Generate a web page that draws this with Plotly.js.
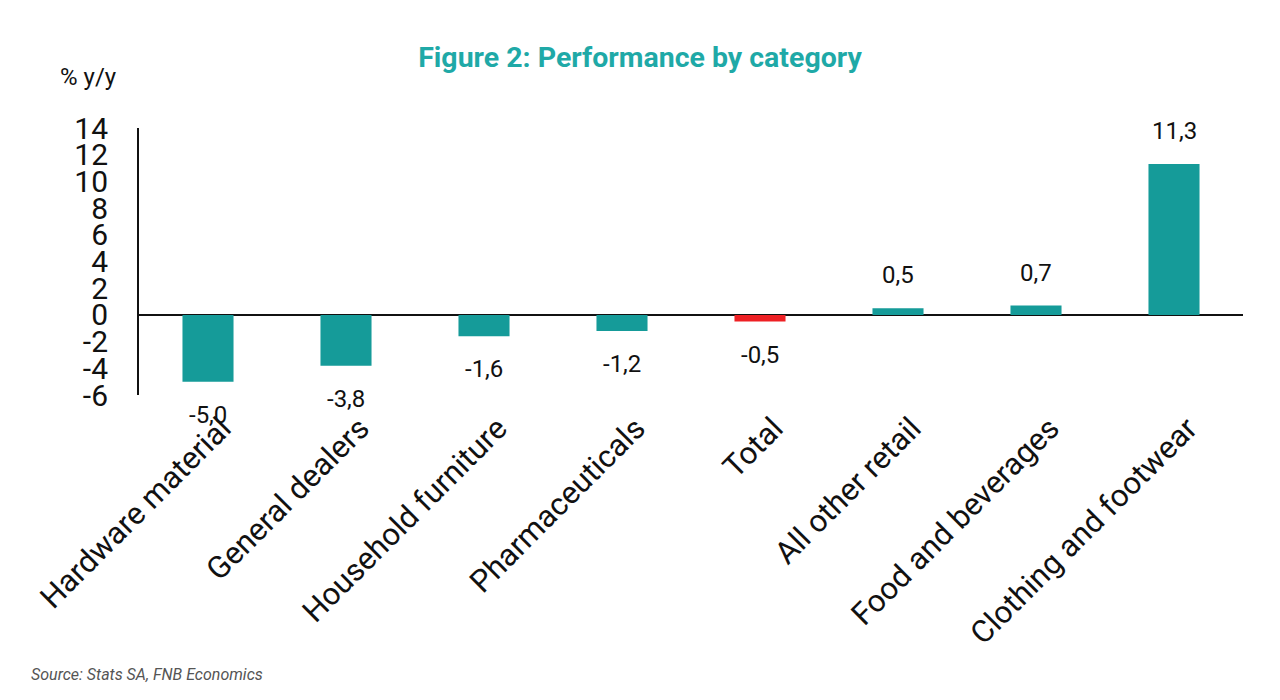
<!DOCTYPE html>
<html><head><meta charset="utf-8">
<script src="https://cdn.plot.ly/plotly-3.0.1.min.js"></script>
<style>body{margin:0;background:#fff}#chart{width:1280px;height:700px}</style>
</head><body><div id="chart"></div>
<script>
const categories = ["Hardware material","General dealers","Household furniture","Pharmaceuticals","Total","All other retail","Food and beverages","Clothing and footwear"];
const values = [-5.0,-3.8,-1.6,-1.2,-0.5,0.5,0.7,11.3];
const barColors = ["#159b99","#159b99","#159b99","#159b99","#ee2024","#159b99","#159b99","#159b99"];
const yTicks = [-6,-4,-2,0,2,4,6,8,10,12,14];

const labels = values.map(v => v.toFixed(1).replace('.', ','));

const trace = {
  type: 'bar', x: categories, y: values,
  marker: {color: barColors},
  hoverinfo: 'skip'
};
const valueNotes = categories.map((c, i) => ({
  x: c, y: values[i], xref: 'x', yref: 'y', text: labels[i], showarrow: false,
  yanchor: 'middle', yshift: values[i] >= 0 ? 33 : -33,
  font: {family: 'Roboto', size: 24, color: '#111'}
}));
const layout = {
  width: 1280, height: 700,
  margin: {l: 139, r: 37, t: 128, b: 305},
  paper_bgcolor: '#fff', plot_bgcolor: '#fff',
  bargap: 0.63, showlegend: false,
  title: {text: '<b>Figure 2: Performance by category</b>', x: 0.5, xanchor: 'center', y: 0.918, yanchor: 'middle',
    font: {family: 'Roboto', size: 28.5, color: '#1fa9a7'}},
  xaxis: {type: 'category', showline: false, showgrid: false, zeroline: false, ticks: '',
    tickangle: -45, ticklabelshift: 14, ticklabelstandoff: 8,
    tickfont: {family: 'Roboto', size: 31, color: '#111'}},
  yaxis: {range: [-6, 14], tickvals: yTicks, ticktext: yTicks.map(String), showgrid: false,
    zeroline: true, zerolinecolor: '#111', zerolinewidth: 2,
    showline: true, linecolor: '#111', linewidth: 2, ticks: '', ticklabelstandoff: 23,
    tickfont: {family: 'Roboto', size: 30, color: '#111'}},
  annotations: valueNotes.concat([
    {text: '% y/y', xref: 'paper', yref: 'paper', x: -0.0735, y: 1.19, xanchor: 'left', yanchor: 'middle', showarrow: false,
      font: {family: 'Roboto', size: 24, color: '#111'}},
    {text: '<i>Source: Stats SA, FNB Economics</i>', xref: 'paper', yref: 'paper', x: -0.0995, y: -1.045, xanchor: 'left', yanchor: 'middle', showarrow: false,
      font: {family: 'Roboto', size: 16, color: '#555'}}
  ])
};
Plotly.newPlot('chart', [trace], layout, {displayModeBar: false, staticPlot: true});
</script></body></html>
